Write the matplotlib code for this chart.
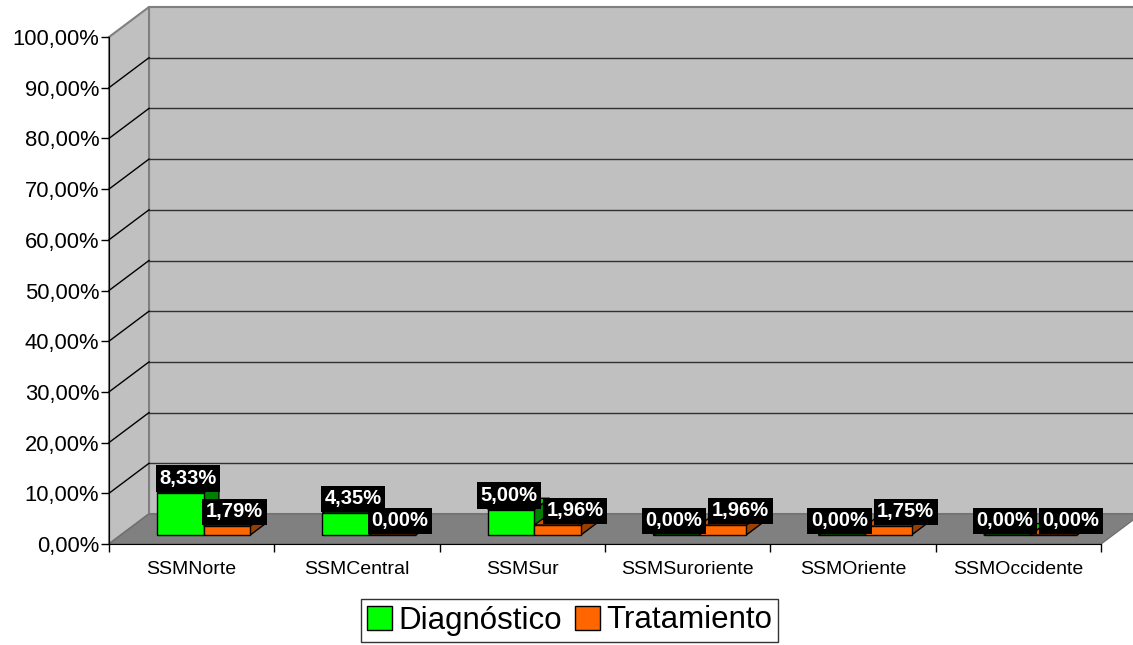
import matplotlib.pyplot as plt
from matplotlib.patches import Polygon, Patch

categories = ["SSMNorte", "SSMCentral", "SSMSur", "SSMSuroriente", "SSMOriente", "SSMOccidente"]
diagnostico = [8.33, 4.35, 5.00, 0.00, 0.00, 0.00]
tratamiento = [1.79, 0.00, 1.96, 1.96, 1.75, 0.00]
series_names = ["Diagnóstico", "Tratamiento"]
y_ticks = [0, 10, 20, 30, 40, 50, 60, 70, 80, 90, 100]

# face colours: front, top, side
faces = [("#00FF00", "#00C800", "#008000"), ("#FF6600", "#CC5200", "#993D00")]

plt.rcParams["font.family"] = ["Liberation Sans", "DejaVu Sans"]

# projection of depth (fraction 0..1 of the floor depth) onto the front plane
DX = 40 / 165.33   # in category units
DY = 30 / 5.07     # in percent units
n = len(categories)


def proj(c, v, f):
    return (c + f * DX, v + f * DY)


fig = plt.figure(figsize=(11.33, 6.45), dpi=100)
ax = fig.add_axes([109 / 1133, 1 - 544 / 645, 992 / 1133, 507 / 645])
ax.set_xlim(0, n)
ax.set_ylim(0, 100)
ax.patch.set_visible(False)

wall = "#C0C0C0"
edge = "#808080"

# back wall, side wall, floor
ax.add_patch(Polygon([proj(0, 0, 1), proj(n, 0, 1), proj(n, 100, 1), proj(0, 100, 1)],
                     closed=True, fc=wall, ec=edge, lw=1.5, clip_on=False, zorder=0.5))
ax.add_patch(Polygon([proj(0, 0, 0), proj(0, 0, 1), proj(0, 100, 1), proj(0, 100, 0)],
                     closed=True, fc=wall, ec=edge, lw=1.5, clip_on=False, zorder=0.6))
ax.add_patch(Polygon([proj(0, 0, 0), proj(n, 0, 0), proj(n, 0, 1), proj(0, 0, 1)],
                     closed=True, fc="#808080", ec="#707070", lw=1, clip_on=False, zorder=0.7))

# gridlines on back and side wall
for v in y_ticks[1:-1]:
    x0, y0 = proj(0, v, 1)
    x1, y1 = proj(n, v, 1)
    ax.plot([x0, x1], [y0, y1], color="#303030", lw=1, clip_on=False, zorder=0.8)
    ax.plot([0, x0], [v, y0], color="black", lw=1, clip_on=False, zorder=0.8)

# bars
gap = 0.218
bw = 0.282
f0, f1 = 0.30, 0.68
labels = []
for i in range(n):
    pair = []
    for s, vals in enumerate([diagnostico, tratamiento]):
        v = vals[i]
        c0 = i + gap + s * bw
        c1 = c0 + bw
        front_c, top_c, side_c = faces[s]
        side = [proj(c1, 0, f0), proj(c1, 0, f1), proj(c1, v, f1), proj(c1, v, f0)]
        top = [proj(c0, v, f0), proj(c1, v, f0), proj(c1, v, f1), proj(c0, v, f1)]
        front = [proj(c0, 0, f0), proj(c1, 0, f0), proj(c1, v, f0), proj(c0, v, f0)]
        for pts, col in [(side, side_c), (top, top_c), (front, front_c)]:
            ax.add_patch(Polygon(pts, closed=True, fc=col, ec="black", lw=1,
                                 clip_on=False, zorder=3))
        lx, ly = proj((c0 + c1) / 2, v, (f0 + f1) / 2)
        t = ax.annotate(f"{v:.2f}%".replace(".", ","), (lx, ly), xytext=(0, 8.5),
                        textcoords="offset pixels", ha="center", va="center",
                        color="white", fontsize=14.5, fontweight="bold", zorder=6,
                        bbox=dict(boxstyle="square,pad=0.18", fc="black", ec="none"))
        pair.append(t)
    labels.append(pair)

# axes
for sp in ["top", "right"]:
    ax.spines[sp].set_visible(False)
ax.spines["left"].set_zorder(1)
ax.spines["bottom"].set_zorder(1)
ax.set_yticks(y_ticks)
ax.set_yticklabels([f"{v:.2f}%".replace(".", ",") for v in y_ticks])
ax.tick_params(axis="y", length=6, width=1, pad=1, labelsize=15.8)
ax.set_xticks(range(n + 1))
ax.set_xticklabels([])
ax.tick_params(axis="x", which="major", length=6, width=1)
ax.set_xticks([i + 0.5 for i in range(n)], minor=True)
ax.set_xticklabels(categories, minor=True)
ax.tick_params(axis="x", which="minor", length=0, pad=12, labelsize=14)

# push apart the two labels of a category when their boxes collide
fig.canvas.draw()
renderer = fig.canvas.get_renderer()
for d, t in labels:
    bd = d.get_bbox_patch().get_window_extent(renderer)
    bt = t.get_bbox_patch().get_window_extent(renderer)
    v_overlap = min(bd.y1, bt.y1) - max(bd.y0, bt.y0)
    h_overlap = bd.x1 - bt.x0
    if v_overlap > 8 and h_overlap > 0:
        shift = h_overlap / 2 + 1
        d.xyann = (-shift, 8.5)
        t.xyann = (shift, 8.5)

handles = [Patch(fc=faces[k][0], ec="black", lw=1) for k in range(2)]
fig.legend(handles, series_names, loc="center", bbox_to_anchor=(569.5 / 1133, 1 - 620.5 / 645),
           ncol=2, fontsize=22.5, frameon=True, fancybox=False, edgecolor="black",
           borderpad=0.2, handletextpad=0.2, columnspacing=0.4,
           handlelength=0.8, handleheight=0.8, borderaxespad=0)

fig.savefig("out.png", dpi=100)
